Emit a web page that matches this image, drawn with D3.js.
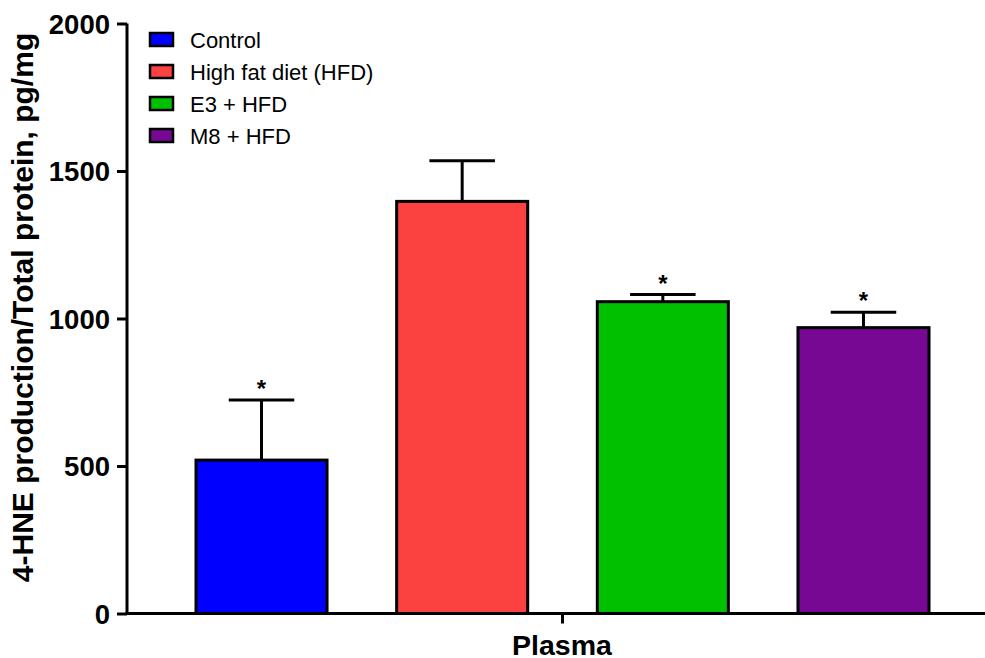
<!DOCTYPE html>
<html>
<head>
<meta charset="utf-8">
<script src="https://cdn.jsdelivr.net/npm/d3@7"></script>
<style>
  html, body { margin: 0; padding: 0; background: #fff; }
  svg { display: block; font-family: Arial, "Liberation Sans", sans-serif; }
</style>
</head>
<body>
<svg id="chart" width="985" height="658"></svg>
<script>
// 4-HNE production in plasma, by treatment group
const groups = ["Control", "High fat diet (HFD)", "E3 + HFD", "M8 + HFD"];
const means = [520, 1397, 1057, 969];
const errors = [204, 138, 24, 52];
const significant = [true, false, true, true];
const colors = ["#0000ff", "#fc4141", "#00c000", "#760894"];
const yTicks = [0, 500, 1000, 1500, 2000];
const category = "Plasma";
const yTitle = "4-HNE production/Total protein, pg/mg";

const svg = d3.select("#chart");
const plotLeft = 127, plotRight = 990, plotTop = 23.5, plotBottom = 613.5;

const y = d3.scaleLinear().domain([0, 2000]).range([plotBottom, plotTop]);
const x = d3.scaleBand().domain(groups).range([196, 929]).paddingInner(0.347).paddingOuter(0);

// bars
svg.append("g").selectAll("rect").data(groups).join("rect")
  .attr("x", d => x(d))
  .attr("y", (d, i) => y(means[i]))
  .attr("width", x.bandwidth())
  .attr("height", (d, i) => y(0) - y(means[i]))
  .attr("fill", (d, i) => colors[i])
  .attr("stroke", "#000").attr("stroke-width", 3);

// error bars (upper only) and significance marks
const eb = svg.append("g").attr("stroke", "#000").attr("stroke-width", 3);
groups.forEach((g, i) => {
  const cx = x(g) + x.bandwidth() / 2;
  const capHalf = x.bandwidth() / 4;
  const yTop = y(means[i] + errors[i]);
  eb.append("line").attr("x1", cx).attr("x2", cx)
    .attr("y1", y(means[i])).attr("y2", yTop);
  eb.append("line").attr("x1", cx - capHalf).attr("x2", cx + capHalf)
    .attr("y1", yTop).attr("y2", yTop);
  if (significant[i]) {
    svg.append("text").attr("x", cx).attr("y", yTop - 3)
      .attr("text-anchor", "middle").attr("font-size", 24).attr("font-weight", "bold")
      .text("*");
  }
});

// y axis
const yAxis = svg.append("g").attr("transform", `translate(${plotLeft},0)`)
  .call(d3.axisLeft(y).tickValues(yTicks).tickSize(10).tickPadding(7).tickFormat(d3.format("d")));
yAxis.select(".domain").attr("stroke-width", 3).attr("d", `M0,${plotBottom + 1.5}V${plotTop}`);
yAxis.selectAll(".tick line").attr("stroke-width", 3);
yAxis.selectAll(".tick text")
  .attr("font-size", 27.5).attr("font-weight", "bold").attr("fill", "#000")
  .attr("font-family", "Arial, 'Liberation Sans', sans-serif")
  .attr("dy", "0.36em");

// x axis
const xCat = d3.scalePoint().domain([category]).range([562, 562]);
const xAxis = svg.append("g").attr("transform", `translate(0,${plotBottom})`)
  .call(d3.axisBottom(xCat).tickSize(10).tickFormat(""));
xAxis.select(".domain").attr("d", `M${plotLeft - 1.5},0H${plotRight}`).attr("stroke-width", 3);
xAxis.selectAll(".tick line").attr("stroke-width", 3);
svg.append("text").attr("x", xCat(category)).attr("y", 655)
  .attr("text-anchor", "middle").attr("font-size", 28.5).attr("font-weight", "bold")
  .text(category);

// y axis title
svg.append("text")
  .attr("transform", `translate(33,307.5) rotate(-90)`)
  .attr("text-anchor", "middle").attr("font-size", 30).attr("font-weight", "bold")
  .text(yTitle);

// legend
const legend = svg.append("g").attr("transform", "translate(149,32)");
groups.forEach((g, i) => {
  const row = legend.append("g").attr("transform", `translate(0,${i * 32})`);
  row.append("rect").attr("x", 1).attr("y", 1).attr("width", 23).attr("height", 13)
    .attr("fill", colors[i]).attr("stroke", "#000").attr("stroke-width", 2.5);
  row.append("text").attr("x", 41).attr("y", 15.5).attr("font-size", 22).text(g);
});
</script>
</body>
</html>
